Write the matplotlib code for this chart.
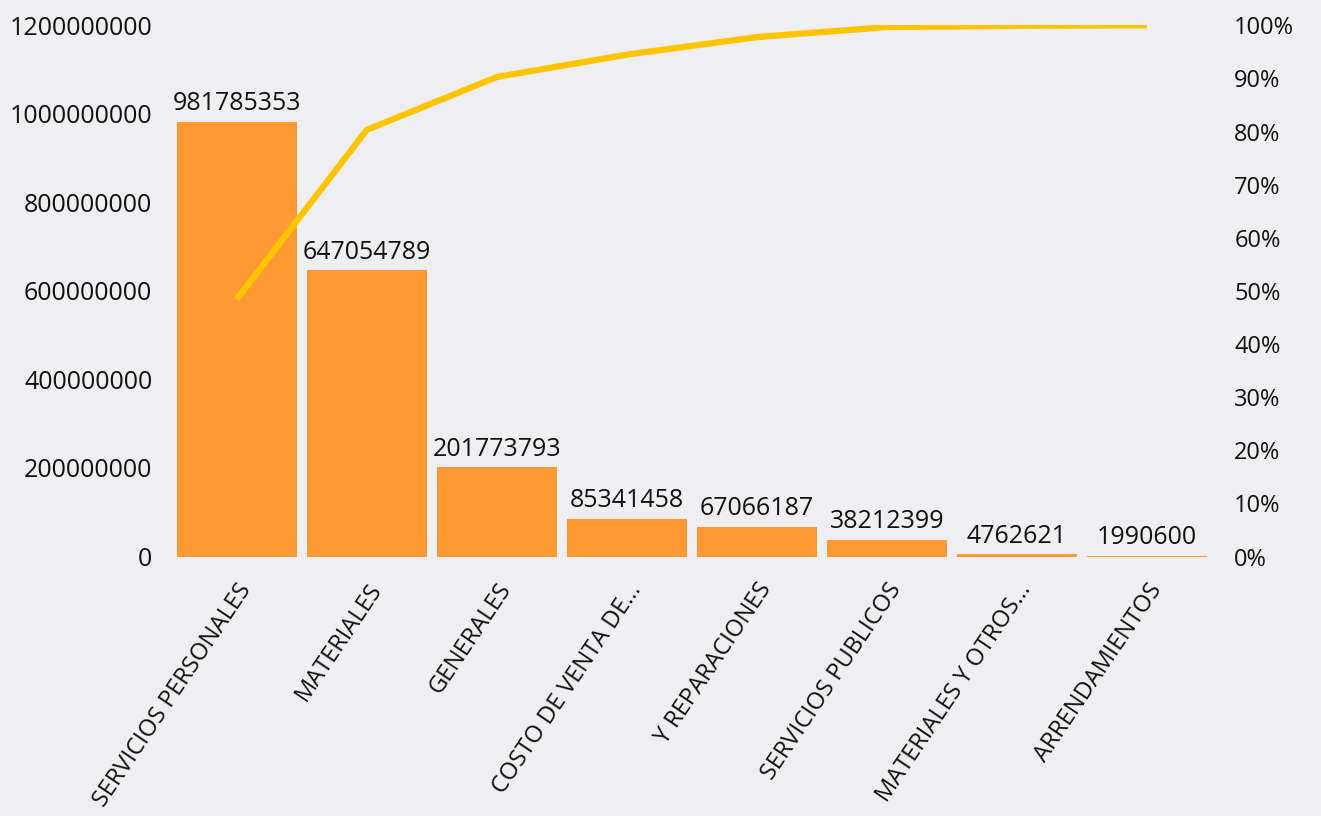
import matplotlib
matplotlib.use("Agg")
import matplotlib.pyplot as plt
import numpy as np

categories = ["SERVICIOS PERSONALES", "MATERIALES", "GENERALES", "COSTO DE VENTA DE...",
              "Y REPARACIONES", "SERVICIOS PUBLICOS", "MATERIALES Y OTROS...", "ARRENDAMIENTOS"]
values = [981785353, 647054789, 201773793, 85341458, 67066187, 38212399, 4762621, 1990600]
left_ticks = [0, 200000000, 400000000, 600000000, 800000000, 1000000000, 1200000000]
right_ticks = [0, 0.1, 0.2, 0.3, 0.4, 0.5, 0.6, 0.7, 0.8, 0.9, 1.0]

cum_share = np.cumsum(values) / np.sum(values)

plt.rcParams['font.family'] = ['Open Sans', 'DejaVu Sans']
bg = '#efeef1'
bar_color = '#ff9a33'
line_color = '#ffc400'
txt = '#111111'

fig = plt.figure(figsize=(13.21, 8.16), dpi=100, facecolor=bg)
ax = fig.add_axes([0.130, 0.318, 0.7875, 0.651])
ax.set_facecolor(bg)
x = np.arange(len(categories))
ax.bar(x, values, width=0.92, color=bar_color, zorder=2)
ax.set_xlim(-0.5, len(categories) - 0.5)
ax.set_ylim(0, 1200000000)
ax.set_yticks(left_ticks)
ax.set_yticklabels([str(v) for v in left_ticks], fontsize=18, color=txt)
ax.tick_params(axis='y', length=0, pad=14)
ax.set_xticks(x)
ax.set_xticklabels(categories, rotation=56, ha='right', va='top',
                   rotation_mode='anchor', fontsize=17, color=txt)
ax.tick_params(axis='x', length=0, pad=16)
for s in ax.spines.values():
    s.set_visible(False)

for xi, v in zip(x, values):
    ax.annotate(str(v), (xi, v), xytext=(0, 4), textcoords='offset points',
                ha='center', va='bottom', fontsize=18, color=txt, zorder=4)

ax2 = ax.twinx()
ax2.plot(x, cum_share, color=line_color, lw=4.5, zorder=3, solid_capstyle='butt')
ax2.set_ylim(0, 1.0)
ax2.set_yticks(right_ticks)
ax2.set_yticklabels([f"{int(round(t*100))}%" for t in right_ticks], fontsize=17, color=txt)
ax2.tick_params(axis='y', length=0, pad=16)
for s in ax2.spines.values():
    s.set_visible(False)

fig.savefig("out.png", dpi=100, facecolor=bg)
